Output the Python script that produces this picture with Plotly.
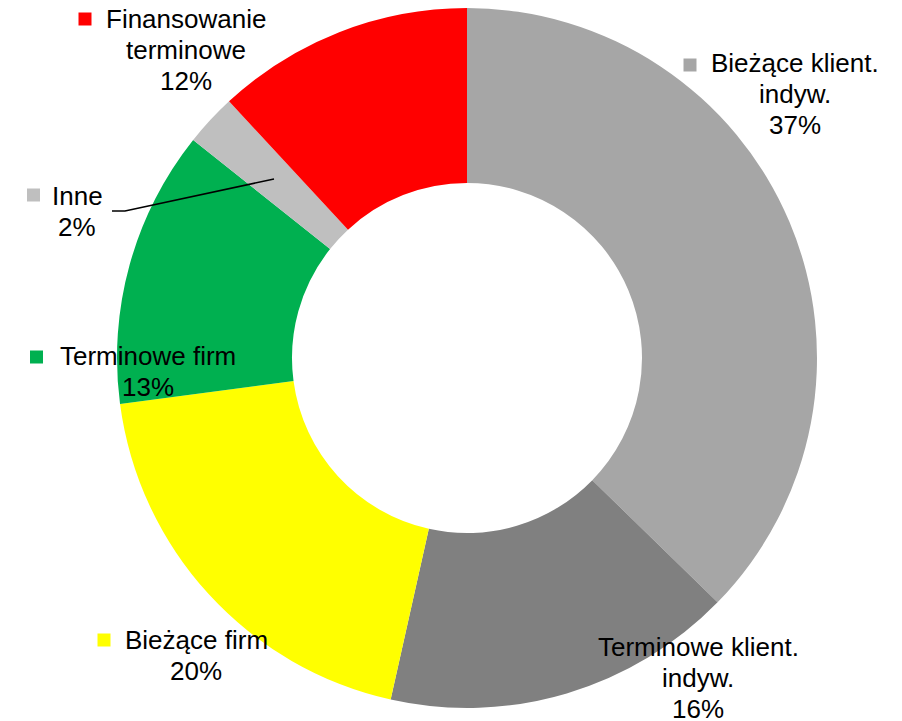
import plotly.graph_objects as go

categories = ["Bieżące klient. indyw.", "Terminowe klient. indyw.", "Bieżące firm",
              "Terminowe firm", "Inne", "Finansowanie terminowe"]
values = [37.3, 16.2, 19.4, 12.8, 2.4, 11.9]
pct_labels = ["37%", "16%", "20%", "13%", "2%", "12%"]
label_lines = [["Bieżące klient.", "indyw."], ["Terminowe klient.", "indyw."], ["Bieżące firm"],
               ["Terminowe firm"], ["Inne"], ["Finansowanie", "terminowe"]]
colors = ["#A6A6A6", "#808080", "#FFFF00", "#00B050", "#BFBFBF", "#FF0000"]

OFF = 8  # page body margin
W, H = 902 - OFF, 721 - OFF
cx, cy, R = 467, 358, 350

def px(x):
    return (x - OFF) / W

def py(y):
    return 1 - (y - OFF) / H

fig = go.Figure(go.Pie(
    labels=categories, values=values, hole=0.5, sort=False, direction="clockwise",
    rotation=0, marker=dict(colors=colors, line=dict(width=0)), textinfo="none",
    hoverinfo="label+percent", showlegend=False,
    domain=dict(x=[px(cx - R), px(cx + R)], y=[max(0, py(cy + R)), min(1, py(cy - R))]),
))

# label layout: (center x, first line center y, marker x, marker y or None)
label_pos = [
    (795, 63, 690, 65),
    (698, 647, None, None),
    (196, 640, 104, 640),
    (148, 356, 36.5, 357),
    (77, 196, 33.5, 195),
    (186, 19, 85, 19),
]
line_h = 31
annotations = []
shapes = []
for i, (lx, ly, mx, my) in enumerate(label_pos):
    lines = label_lines[i] + [pct_labels[i]]
    for j, line in enumerate(lines):
        annotations.append(dict(
            x=px(lx), y=py(ly + j * line_h), xref="paper", yref="paper", text=line,
            showarrow=False, xanchor="center", yanchor="middle", align="center",
            font=dict(family="Arial, Liberation Sans, sans-serif", size=26, color="#000000"),
        ))
    if mx is not None:
        s = 6.5
        shapes.append(dict(type="rect", xref="paper", yref="paper",
                           x0=px(mx - s), x1=px(mx + s), y0=py(my + s), y1=py(my - s),
                           fillcolor=colors[i], line=dict(width=0)))

# leader line for "Inne"
shapes.append(dict(type="path", xref="paper", yref="paper",
                   path=f"M {px(112)},{py(211)} L {px(125)},{py(211)} L {px(274)},{py(179)}",
                   line=dict(color="#000000", width=1.5)))

fig.update_layout(
    width=W, height=H, margin=dict(l=0, r=0, t=0, b=0),
    paper_bgcolor="#FFFFFF", plot_bgcolor="#FFFFFF",
    annotations=annotations, shapes=shapes,
)
fig.write_html("out.html")
